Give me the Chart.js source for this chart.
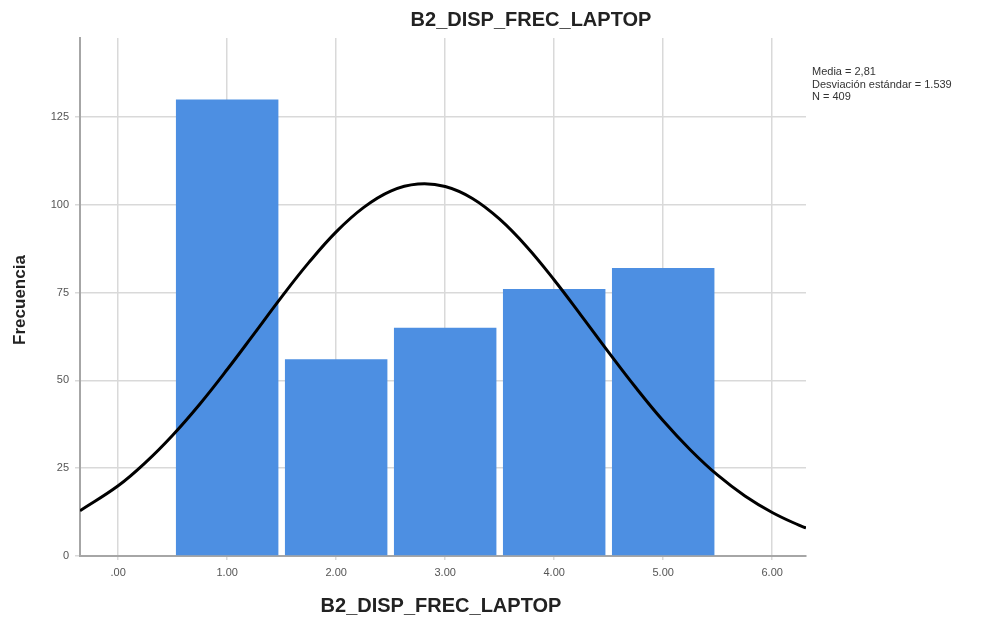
<!DOCTYPE html>
<html>
<head>
<meta charset="utf-8">
<script src="https://cdn.jsdelivr.net/npm/chart.js@4/dist/chart.umd.min.js"></script>
<style>
html,body{margin:0;padding:0;background:#fff;}
canvas{display:block;}
</style>
</head>
<body>
<canvas id="c" width="995" height="623"></canvas>
<script>
// ---- data ----
const chartTitle = 'B2_DISP_FREC_LAPTOP';
const xAxisTitle = 'B2_DISP_FREC_LAPTOP';
const yAxisTitle = 'Frecuencia';
const binCenters = [1, 2, 3, 4, 5];
const frequencies = [130, 56, 65, 76, 82];
const curveX = [-0.35, 0, 0.25, 0.5, 0.75, 1.0, 1.25, 1.5, 1.75, 2.0, 2.25, 2.5, 2.75, 3.0, 3.25, 3.5, 3.75, 4.0, 4.25, 4.5, 4.75, 5.0, 5.25, 5.5, 5.75, 6.0, 6.25, 6.31];
const curveY = [12.9, 20.0, 26.6, 34.4, 43.3, 53.1, 63.4, 73.8, 83.6, 92.3, 99.2, 103.9, 105.9, 105.2, 101.8, 95.9, 88.0, 78.6, 68.4, 58.0, 47.9, 38.5, 30.2, 23.0, 17.1, 12.4, 8.7, 8.0];
const xTickValues = [0, 1, 2, 3, 4, 5, 6];
const xTickLabels = ['.00', '1.00', '2.00', '3.00', '4.00', '5.00', '6.00'];
const yTickValues = [0, 25, 50, 75, 100, 125];
const statsLines = ['Media = 2,81', 'Desviación estándar = 1.539', 'N = 409'];

const textPlugin = {
  id: 'texts',
  afterDraw(chart) {
    const ctx = chart.ctx;
    ctx.save();
    ctx.fillStyle = '#222';
    ctx.textBaseline = 'middle';
    ctx.textAlign = 'center';
    ctx.font = 'bold 20px "Liberation Sans", Arial, sans-serif';
    ctx.fillText(chartTitle, 531, 20);
    ctx.fillText(xAxisTitle, 441, 606);
    ctx.save();
    ctx.translate(20, 300);
    ctx.rotate(-Math.PI / 2);
    ctx.font = 'bold 17px "Liberation Sans", Arial, sans-serif';
    ctx.fillText(yAxisTitle, 0, 0);
    ctx.restore();
    ctx.textAlign = 'left';
    ctx.fillStyle = '#333';
    ctx.font = '11px "Liberation Sans", Arial, sans-serif';
    statsLines.forEach((s, i) => ctx.fillText(s, 812, 72 + i * 12.5));
    ctx.restore();
  }
};

new Chart(document.getElementById('c'), {
  data: {
    datasets: [
      {
        type: 'line',
        data: curveX.map((x, i) => ({x: x, y: curveY[i]})),
        borderColor: '#000',
        borderWidth: 3,
        pointRadius: 0,
        tension: 0.4,
        fill: false,
        order: 0
      },
      {
        type: 'bar',
        data: binCenters.map((x, i) => ({x: x, y: frequencies[i]})),
        backgroundColor: '#4d8fe2',
        borderWidth: 0,
        barPercentage: 0.94,
        categoryPercentage: 1.0,
        order: 1
      }
    ]
  },
  options: {
    responsive: false,
    animation: false,
    layout: {padding: {left: 0, right: 189, top: 38, bottom: 0}},
    plugins: {legend: {display: false}, tooltip: {enabled: false}, title: {display: false}},
    scales: {
      x: {
        type: 'linear',
        offset: false,
        min: -0.35,
        max: 6.31,
        afterBuildTicks(scale) { scale.ticks = xTickValues.map(v => ({value: v})); },
        afterFit(scale) { scale.height = 67; },
        ticks: {
          callback: (v, i) => xTickLabels[i],
          color: '#555',
          font: {size: 11, family: '"Liberation Sans", Arial, sans-serif'},
          padding: 6,
          maxRotation: 0
        },
        grid: {offset: false, color: '#d9d9d9', lineWidth: 1.5, drawTicks: true, tickLength: 4},
        border: {display: true, color: '#a6a6a6', width: 2}
      },
      y: {
        type: 'linear',
        min: 0,
        max: 147.5,
        afterBuildTicks(scale) { scale.ticks = yTickValues.map(v => ({value: v})); },
        afterFit(scale) { scale.width = 80; },
        ticks: {
          color: '#555',
          font: {size: 11, family: '"Liberation Sans", Arial, sans-serif'},
          padding: 6
        },
        grid: {color: '#d9d9d9', lineWidth: 1.5, drawTicks: true, tickLength: 5},
        border: {display: true, color: '#a6a6a6', width: 2}
      }
    }
  },
  plugins: [textPlugin]
});
</script>
</body>
</html>
